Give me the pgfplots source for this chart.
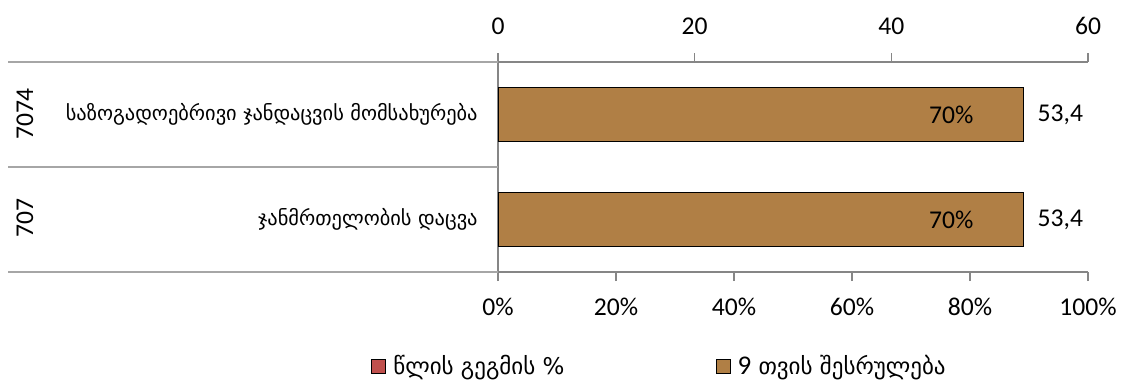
\documentclass[border=0pt]{standalone}
\usepackage{pgfplots}
\pgfplotsset{compat=1.18}
\usepackage{fontspec}
\setmainfont{Carlito}
\newfontfamily\geo{DejaVu Sans}

\definecolor{planred}{HTML}{C0504D}
\definecolor{execbrown}{HTML}{B07F45}
\definecolor{axisgray}{HTML}{868686}
\definecolor{panelgray}{HTML}{A6A6A6}

\pgfplotsset{
  budget/.style={
    at={(249pt,54.5pt)}, anchor=south west,
    scale only axis, width=295pt, height=105pt,
    ymin=-0.5, ymax=1.5, ytick=\empty,
    xbar, bar width=27pt,
    every axis plot/.append style={bar shift=0pt},
    font=\fontsize{12.8}{15}\selectfont,
    /pgf/number format/assume math mode=true,
    axis line style={axisgray, line width=0.7pt},
    tick style={axisgray, line width=0.7pt},
    major tick length=4.5pt,
    tick align=outside,
  },
  legimg/.style={legend image code/.code={
    \draw[##1, draw=black, line width=0.5pt] (0pt,-3.5pt) rectangle (7pt,3.5pt);}},
}

\begin{document}
\begin{tikzpicture}
\useasboundingbox (0,0) rectangle (561.5pt,190.5pt);

% share of the yearly plan, on the percentage axis below
\begin{axis}[budget,
  xmin=0, xmax=100, xtick={0,20,...,100},
  xticklabel={\pgfmathprintnumber{\tick}\%},
  xticklabel style={yshift=-5pt},
  axis x line*=bottom, axis y line*=left, xtick pos=left,
  legend columns=2,
  legend style={at={(-0.2153,-0.45)}, anchor=west, draw=none, fill=none,
    inner sep=0pt, nodes={inner sep=0pt, font=\geo\fontsize{11.5}{13}\selectfont},
    /tikz/every odd column/.style={column sep=3.5pt},
    /tikz/every even column/.style={column sep=75.5pt}},
]
\addplot[fill=planred, draw=black, line width=0.5pt, forget plot] coordinates {(70,0) (70,1)};
\addlegendimage{legimg, fill=planred}
\addlegendentry{წლის გეგმის \%}
\addlegendimage{legimg, fill=execbrown}
\addlegendentry{{\fontspec{Carlito}\fontsize{13.5}{15}\selectfont 9} თვის შესრულება}
\end{axis}

% nine-month execution, on the value axis above
\begin{axis}[budget,
  xmin=0, xmax=60, xtick={0,20,40,60},
  xticklabel style={yshift=5.5pt},
  axis x line*=top, axis y line=none, xtick pos=right,
  point meta=x,
  nodes near coords={\pgfmathprintnumber[fixed,precision=1,use comma]{\pgfplotspointmeta}},
  nodes near coords style={anchor=west, xshift=3.7pt},
]
\addplot[fill=execbrown, draw=black, line width=0.5pt] coordinates {(53.4,0) (53.4,1)};
\end{axis}

% plan share labels, set over the execution bars
\begin{axis}[budget, hide axis,
  xmin=0, xmax=100,
  point meta=x,
  nodes near coords={\pgfmathprintnumber[fixed,precision=0]{\pgfplotspointmeta}\%},
  nodes near coords style={anchor=west, xshift=5.5pt},
]
\addplot[draw=none, fill=none] coordinates {(70,0) (70,1)};
\end{axis}

% category panel: code and programme name
\draw[panelgray, line width=0.7pt] (4pt,159.5pt) -- (249pt,159.5pt);
\draw[panelgray, line width=0.7pt] (4pt,107pt) -- (249pt,107pt);
\draw[panelgray, line width=0.7pt] (4pt,54.5pt) -- (249pt,54.5pt);
\begin{scope}[font=\fontsize{12.8}{15}\selectfont]
\node[rotate=90] at (12.5pt,133.5pt) {7074};
\node[rotate=90] at (12.5pt,81.5pt) {707};
\end{scope}
\begin{scope}[font=\geo\fontsize{10.2}{12}\selectfont]
\node[anchor=east, inner sep=0pt] at (239pt,133.5pt) {საზოგადოებრივი ჯანდაცვის მომსახურება};
\node[anchor=east, inner sep=0pt] at (239pt,81pt) {ჯანმრთელობის დაცვა};
\end{scope}
\end{tikzpicture}
\end{document}
